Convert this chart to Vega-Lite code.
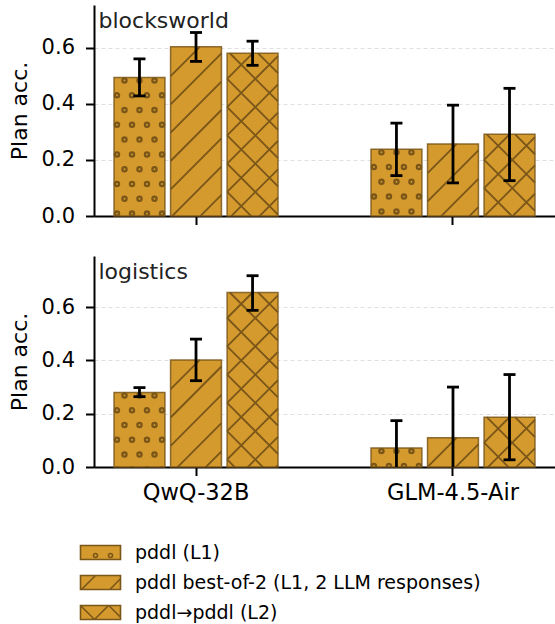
{
  "$schema": "https://vega.github.io/schema/vega-lite/v6.json",
  "padding": {"left": 8, "top": 5, "right": 0, "bottom": 0},
  "background": "white",
  "bounds": "flush",
  "spacing": 40,
  "config": {
    "font": "DejaVu Sans",
    "view": {"stroke": null},
    "axis": {"domainColor": "#000", "domainWidth": 2, "tickColor": "#000", "tickWidth": 2, "tickSize": 8.5, "labelColor": "#000", "labelFont": "DejaVu Sans", "titleFont": "DejaVu Sans", "titleColor": "#000", "titleFontWeight": "normal", "labelPadding": 9},
    "axisX": {"grid": false, "labelFontSize": 22.5, "labelAngle": 0, "labelPadding": 6},
    "axisY": {"grid": true, "gridColor": "#dfdfdf", "gridDash": [4, 3], "gridWidth": 1.2, "labelFontSize": 21, "labelPadding": 11, "titleFontSize": 22, "titlePadding": 10}
  },
  "data": {"values": [
    {"task": "blocksworld", "model": "QwQ-32B", "variant": "pddl (L1)", "acc": 0.494, "lo": 0.428, "hi": 0.560},
    {"task": "blocksworld", "model": "QwQ-32B", "variant": "pddl best-of-2 (L1, 2 LLM responses)", "acc": 0.603, "lo": 0.551, "hi": 0.654},
    {"task": "blocksworld", "model": "QwQ-32B", "variant": "pddl→pddl (L2)", "acc": 0.580, "lo": 0.537, "hi": 0.623},
    {"task": "blocksworld", "model": "GLM-4.5-Air", "variant": "pddl (L1)", "acc": 0.238, "lo": 0.144, "hi": 0.331},
    {"task": "blocksworld", "model": "GLM-4.5-Air", "variant": "pddl best-of-2 (L1, 2 LLM responses)", "acc": 0.257, "lo": 0.118, "hi": 0.395},
    {"task": "blocksworld", "model": "GLM-4.5-Air", "variant": "pddl→pddl (L2)", "acc": 0.291, "lo": 0.126, "hi": 0.455},
    {"task": "logistics", "model": "QwQ-32B", "variant": "pddl (L1)", "acc": 0.280, "lo": 0.264, "hi": 0.298},
    {"task": "logistics", "model": "QwQ-32B", "variant": "pddl best-of-2 (L1, 2 LLM responses)", "acc": 0.402, "lo": 0.324, "hi": 0.480},
    {"task": "logistics", "model": "QwQ-32B", "variant": "pddl→pddl (L2)", "acc": 0.655, "lo": 0.588, "hi": 0.718},
    {"task": "logistics", "model": "GLM-4.5-Air", "variant": "pddl (L1)", "acc": 0.071, "lo": -0.032, "hi": 0.174},
    {"task": "logistics", "model": "GLM-4.5-Air", "variant": "pddl best-of-2 (L1, 2 LLM responses)", "acc": 0.110, "lo": -0.080, "hi": 0.300},
    {"task": "logistics", "model": "GLM-4.5-Air", "variant": "pddl→pddl (L2)", "acc": 0.187, "lo": 0.027, "hi": 0.347}
  ]},
  "vconcat": [
    {
      "width": 461, "height": 211,
      "transform": [{"filter": "datum.task === 'blocksworld'"}],
      "resolve": {"axis": {"x": "independent"}},
      "encoding": {
        "x": {"field": "model", "type": "nominal", "sort": ["QwQ-32B", "GLM-4.5-Air"], "scale": {"paddingInner": 0.362, "paddingOuter": 0.078}, "axis": null},
        "xOffset": {"field": "variant", "type": "nominal", "sort": ["pddl (L1)", "pddl best-of-2 (L1, 2 LLM responses)", "pddl→pddl (L2)"], "scale": {"paddingInner": 0.1, "paddingOuter": 0}}
      },
      "layer": [
        {
          "mark": {"type": "bar", "stroke": "#7a5619", "strokeWidth": 1.5, "strokeOpacity": 0.85},
          "encoding": {
            "x": {"field": "model", "type": "nominal", "sort": ["QwQ-32B", "GLM-4.5-Air"], "axis": {"labels": false, "title": null}},
            "y": {"field": "acc", "type": "quantitative", "title": "Plan acc.", "scale": {"domain": [0, 0.752], "nice": false, "zero": true}, "axis": {"values": [0, 0.2, 0.4, 0.6], "format": ".1f"}},
            "color": {"field": "variant", "type": "nominal", "sort": ["pddl (L1)", "pddl best-of-2 (L1, 2 LLM responses)", "pddl→pddl (L2)"], "scale": {"range": ["#d49a2e", "#d49a2e", "#d49a2e"]},
              "legend": {"title": null, "orient": "none", "legendX": -3, "legendY": 538, "labelFontSize": 19, "labelColor": "#000", "labelFont": "DejaVu Sans", "labelLimit": 500, "symbolSize": 4, "symbolStrokeColor": "#7a5619", "symbolStrokeWidth": 1.6, "symbolOpacity": 1, "labelOffset": 25, "rowPadding": 9,
                "encode": {"symbols": {"update": {"shape": {"signal": "datum.value === 'pddl (L1)' ? 'M-20 -7H20V7H-20ZM-7 3a2 2 0 1 1 4 0a2 2 0 1 1 -4 0M8 3a2 2 0 1 1 4 0a2 2 0 1 1 -4 0' : datum.value === 'pddl→pddl (L2)' ? 'M-20 -7H20V7H-20ZM-20 -7L-6 7M-6 7L8 -7M8.3 -7L20 4.7' : 'M-20 -7H20V7H-20ZM-19 7L-5 -7M9.3 7L20 -3.7'"}}}}}}
          }
        },
        {
          "transform": [{"filter": "datum.variant === 'pddl (L1)'"}],
          "mark": {"type": "point", "size": 4, "filled": false, "stroke": "#7a5619", "strokeWidth": 2.3, "opacity": 1, "clip": true,
            "shape": "M-17.1 3a2.1 2.1 0 1 0 4.2 0a2.1 2.1 0 1 0 -4.2 0M-2.1 3a2.1 2.1 0 1 0 4.2 0a2.1 2.1 0 1 0 -4.2 0M12.9 3a2.1 2.1 0 1 0 4.2 0a2.1 2.1 0 1 0 -4.2 0M-24.6 17.8a2.1 2.1 0 1 0 4.2 0a2.1 2.1 0 1 0 -4.2 0M-9.6 17.8a2.1 2.1 0 1 0 4.2 0a2.1 2.1 0 1 0 -4.2 0M5.4 17.8a2.1 2.1 0 1 0 4.2 0a2.1 2.1 0 1 0 -4.2 0M20.4 17.8a2.1 2.1 0 1 0 4.2 0a2.1 2.1 0 1 0 -4.2 0M-17.1 32.6a2.1 2.1 0 1 0 4.2 0a2.1 2.1 0 1 0 -4.2 0M-2.1 32.6a2.1 2.1 0 1 0 4.2 0a2.1 2.1 0 1 0 -4.2 0M12.9 32.6a2.1 2.1 0 1 0 4.2 0a2.1 2.1 0 1 0 -4.2 0M-24.6 47.4a2.1 2.1 0 1 0 4.2 0a2.1 2.1 0 1 0 -4.2 0M-9.6 47.4a2.1 2.1 0 1 0 4.2 0a2.1 2.1 0 1 0 -4.2 0M5.4 47.4a2.1 2.1 0 1 0 4.2 0a2.1 2.1 0 1 0 -4.2 0M20.4 47.4a2.1 2.1 0 1 0 4.2 0a2.1 2.1 0 1 0 -4.2 0M-17.1 62.2a2.1 2.1 0 1 0 4.2 0a2.1 2.1 0 1 0 -4.2 0M-2.1 62.2a2.1 2.1 0 1 0 4.2 0a2.1 2.1 0 1 0 -4.2 0M12.9 62.2a2.1 2.1 0 1 0 4.2 0a2.1 2.1 0 1 0 -4.2 0M-24.6 77a2.1 2.1 0 1 0 4.2 0a2.1 2.1 0 1 0 -4.2 0M-9.6 77a2.1 2.1 0 1 0 4.2 0a2.1 2.1 0 1 0 -4.2 0M5.4 77a2.1 2.1 0 1 0 4.2 0a2.1 2.1 0 1 0 -4.2 0M20.4 77a2.1 2.1 0 1 0 4.2 0a2.1 2.1 0 1 0 -4.2 0M-17.1 91.8a2.1 2.1 0 1 0 4.2 0a2.1 2.1 0 1 0 -4.2 0M-2.1 91.8a2.1 2.1 0 1 0 4.2 0a2.1 2.1 0 1 0 -4.2 0M12.9 91.8a2.1 2.1 0 1 0 4.2 0a2.1 2.1 0 1 0 -4.2 0M-24.6 106.6a2.1 2.1 0 1 0 4.2 0a2.1 2.1 0 1 0 -4.2 0M-9.6 106.6a2.1 2.1 0 1 0 4.2 0a2.1 2.1 0 1 0 -4.2 0M5.4 106.6a2.1 2.1 0 1 0 4.2 0a2.1 2.1 0 1 0 -4.2 0M20.4 106.6a2.1 2.1 0 1 0 4.2 0a2.1 2.1 0 1 0 -4.2 0M-17.1 121.4a2.1 2.1 0 1 0 4.2 0a2.1 2.1 0 1 0 -4.2 0M-2.1 121.4a2.1 2.1 0 1 0 4.2 0a2.1 2.1 0 1 0 -4.2 0M12.9 121.4a2.1 2.1 0 1 0 4.2 0a2.1 2.1 0 1 0 -4.2 0M-24.6 136.2a2.1 2.1 0 1 0 4.2 0a2.1 2.1 0 1 0 -4.2 0M-9.6 136.2a2.1 2.1 0 1 0 4.2 0a2.1 2.1 0 1 0 -4.2 0M5.4 136.2a2.1 2.1 0 1 0 4.2 0a2.1 2.1 0 1 0 -4.2 0M20.4 136.2a2.1 2.1 0 1 0 4.2 0a2.1 2.1 0 1 0 -4.2 0M-17.1 151a2.1 2.1 0 1 0 4.2 0a2.1 2.1 0 1 0 -4.2 0M-2.1 151a2.1 2.1 0 1 0 4.2 0a2.1 2.1 0 1 0 -4.2 0M12.9 151a2.1 2.1 0 1 0 4.2 0a2.1 2.1 0 1 0 -4.2 0M-24.6 165.8a2.1 2.1 0 1 0 4.2 0a2.1 2.1 0 1 0 -4.2 0M-9.6 165.8a2.1 2.1 0 1 0 4.2 0a2.1 2.1 0 1 0 -4.2 0M5.4 165.8a2.1 2.1 0 1 0 4.2 0a2.1 2.1 0 1 0 -4.2 0M20.4 165.8a2.1 2.1 0 1 0 4.2 0a2.1 2.1 0 1 0 -4.2 0M-17.1 180.6a2.1 2.1 0 1 0 4.2 0a2.1 2.1 0 1 0 -4.2 0M-2.1 180.6a2.1 2.1 0 1 0 4.2 0a2.1 2.1 0 1 0 -4.2 0M12.9 180.6a2.1 2.1 0 1 0 4.2 0a2.1 2.1 0 1 0 -4.2 0M-24.6 195.4a2.1 2.1 0 1 0 4.2 0a2.1 2.1 0 1 0 -4.2 0M-9.6 195.4a2.1 2.1 0 1 0 4.2 0a2.1 2.1 0 1 0 -4.2 0M5.4 195.4a2.1 2.1 0 1 0 4.2 0a2.1 2.1 0 1 0 -4.2 0M20.4 195.4a2.1 2.1 0 1 0 4.2 0a2.1 2.1 0 1 0 -4.2 0M-17.1 210.2a2.1 2.1 0 1 0 4.2 0a2.1 2.1 0 1 0 -4.2 0M-2.1 210.2a2.1 2.1 0 1 0 4.2 0a2.1 2.1 0 1 0 -4.2 0M12.9 210.2a2.1 2.1 0 1 0 4.2 0a2.1 2.1 0 1 0 -4.2 0"},
          "encoding": {"y": {"field": "acc", "type": "quantitative", "title": "Plan acc."}}
        },
        {
          "transform": [{"filter": "datum.variant === 'pddl best-of-2 (L1, 2 LLM responses)'"}],
          "mark": {"type": "point", "size": 4, "filled": false, "stroke": "#7a5619", "strokeWidth": 1.8, "opacity": 1, "clip": true,
            "shape": "M-25.4 29.3L3.8 0M-25.4 57.6L25.4 6.6M-25.4 85.9L25.4 34.9M-25.4 114.2L25.4 63.2M-25.4 142.5L25.4 91.5M-25.4 170.8L25.4 119.8M-25.4 199.1L25.4 148.1M-13.1 215L25.4 176.4M15.2 215L25.4 204.7"},
          "encoding": {"y": {"field": "acc", "type": "quantitative", "title": "Plan acc."}}
        },
        {
          "transform": [{"filter": "datum.variant === 'pddl→pddl (L2)'"}],
          "mark": {"type": "point", "size": 4, "filled": false, "stroke": "#7a5619", "strokeWidth": 1.8, "opacity": 1, "clip": true,
            "shape": "M-25.4 25.5L0 0M-25.4 53.8L25.4 2.8M-25.4 82.1L25.4 31.1M-25.4 110.4L25.4 59.4M-25.4 138.7L25.4 87.7M-25.4 167L25.4 116M-25.4 195.3L25.4 144.3M-16.9 215L25.4 172.6M11.4 215L25.4 200.9M5.6 0L25.4 19.9M-22.7 0L25.4 48.2M-25.4 25.5L25.4 76.5M-25.4 53.8L25.4 104.8M-25.4 82.1L25.4 133.1M-25.4 110.4L25.4 161.4M-25.4 138.7L25.4 189.7M-25.4 167L22.5 215M-25.4 195.3L-5.8 215"},
          "encoding": {"y": {"field": "acc", "type": "quantitative", "title": "Plan acc."}}
        },
        {
          "mark": {"type": "rule", "color": "#000", "strokeWidth": 2.8, "clip": true},
          "encoding": {
            "x": {"field": "model", "type": "nominal", "sort": ["QwQ-32B", "GLM-4.5-Air"], "axis": {"orient": "top", "domain": false, "ticks": false, "labels": false, "grid": false, "title": "blocksworld", "titleX": 4, "titleY": 22, "titleAlign": "left", "titleAnchor": "start", "titleBaseline": "alphabetic", "titleFontSize": 22, "titleFontWeight": "normal", "titleColor": "#222"}},
            "y": {"field": "lo", "type": "quantitative", "title": "Plan acc."}, "y2": {"field": "hi"}}
        },
        {
          "mark": {"type": "tick", "color": "#000", "thickness": 2.8, "size": 12, "clip": true, "opacity": 1},
          "encoding": {"y": {"field": "lo", "type": "quantitative", "title": "Plan acc."}}
        },
        {
          "mark": {"type": "tick", "color": "#000", "thickness": 2.8, "size": 12, "clip": true, "opacity": 1},
          "encoding": {"y": {"field": "hi", "type": "quantitative", "title": "Plan acc."}}
        }
      ]
    },
    {
      "width": 461, "height": 211,
      "transform": [{"filter": "datum.task === 'logistics'"}],
      "resolve": {"axis": {"x": "independent"}},
      "encoding": {
        "x": {"field": "model", "type": "nominal", "sort": ["QwQ-32B", "GLM-4.5-Air"], "scale": {"paddingInner": 0.362, "paddingOuter": 0.078}, "axis": null},
        "xOffset": {"field": "variant", "type": "nominal", "sort": ["pddl (L1)", "pddl best-of-2 (L1, 2 LLM responses)", "pddl→pddl (L2)"], "scale": {"paddingInner": 0.1, "paddingOuter": 0}}
      },
      "layer": [
        {
          "mark": {"type": "bar", "stroke": "#7a5619", "strokeWidth": 1.5, "strokeOpacity": 0.85},
          "encoding": {
            "x": {"field": "model", "type": "nominal", "sort": ["QwQ-32B", "GLM-4.5-Air"], "axis": {"title": null}},
            "y": {"field": "acc", "type": "quantitative", "title": "Plan acc.", "scale": {"domain": [0, 0.792], "nice": false, "zero": true}, "axis": {"values": [0, 0.2, 0.4, 0.6], "format": ".1f"}},
            "color": {"field": "variant", "type": "nominal", "sort": ["pddl (L1)", "pddl best-of-2 (L1, 2 LLM responses)", "pddl→pddl (L2)"], "scale": {"range": ["#d49a2e", "#d49a2e", "#d49a2e"]},
              "legend": {"title": null, "orient": "none", "legendX": -3, "legendY": 538, "labelFontSize": 19, "labelColor": "#000", "labelFont": "DejaVu Sans", "labelLimit": 500, "symbolSize": 4, "symbolStrokeColor": "#7a5619", "symbolStrokeWidth": 1.6, "symbolOpacity": 1, "labelOffset": 25, "rowPadding": 9,
                "encode": {"symbols": {"update": {"shape": {"signal": "datum.value === 'pddl (L1)' ? 'M-20 -7H20V7H-20ZM-7 3a2 2 0 1 1 4 0a2 2 0 1 1 -4 0M8 3a2 2 0 1 1 4 0a2 2 0 1 1 -4 0' : datum.value === 'pddl→pddl (L2)' ? 'M-20 -7H20V7H-20ZM-20 -7L-6 7M-6 7L8 -7M8.3 -7L20 4.7' : 'M-20 -7H20V7H-20ZM-19 7L-5 -7M9.3 7L20 -3.7'"}}}}}}
          }
        },
        {
          "transform": [{"filter": "datum.variant === 'pddl (L1)'"}],
          "mark": {"type": "point", "size": 4, "filled": false, "stroke": "#7a5619", "strokeWidth": 2.3, "opacity": 1, "clip": true,
            "shape": "M-17.1 3a2.1 2.1 0 1 0 4.2 0a2.1 2.1 0 1 0 -4.2 0M-2.1 3a2.1 2.1 0 1 0 4.2 0a2.1 2.1 0 1 0 -4.2 0M12.9 3a2.1 2.1 0 1 0 4.2 0a2.1 2.1 0 1 0 -4.2 0M-24.6 17.8a2.1 2.1 0 1 0 4.2 0a2.1 2.1 0 1 0 -4.2 0M-9.6 17.8a2.1 2.1 0 1 0 4.2 0a2.1 2.1 0 1 0 -4.2 0M5.4 17.8a2.1 2.1 0 1 0 4.2 0a2.1 2.1 0 1 0 -4.2 0M20.4 17.8a2.1 2.1 0 1 0 4.2 0a2.1 2.1 0 1 0 -4.2 0M-17.1 32.6a2.1 2.1 0 1 0 4.2 0a2.1 2.1 0 1 0 -4.2 0M-2.1 32.6a2.1 2.1 0 1 0 4.2 0a2.1 2.1 0 1 0 -4.2 0M12.9 32.6a2.1 2.1 0 1 0 4.2 0a2.1 2.1 0 1 0 -4.2 0M-24.6 47.4a2.1 2.1 0 1 0 4.2 0a2.1 2.1 0 1 0 -4.2 0M-9.6 47.4a2.1 2.1 0 1 0 4.2 0a2.1 2.1 0 1 0 -4.2 0M5.4 47.4a2.1 2.1 0 1 0 4.2 0a2.1 2.1 0 1 0 -4.2 0M20.4 47.4a2.1 2.1 0 1 0 4.2 0a2.1 2.1 0 1 0 -4.2 0M-17.1 62.2a2.1 2.1 0 1 0 4.2 0a2.1 2.1 0 1 0 -4.2 0M-2.1 62.2a2.1 2.1 0 1 0 4.2 0a2.1 2.1 0 1 0 -4.2 0M12.9 62.2a2.1 2.1 0 1 0 4.2 0a2.1 2.1 0 1 0 -4.2 0M-24.6 77a2.1 2.1 0 1 0 4.2 0a2.1 2.1 0 1 0 -4.2 0M-9.6 77a2.1 2.1 0 1 0 4.2 0a2.1 2.1 0 1 0 -4.2 0M5.4 77a2.1 2.1 0 1 0 4.2 0a2.1 2.1 0 1 0 -4.2 0M20.4 77a2.1 2.1 0 1 0 4.2 0a2.1 2.1 0 1 0 -4.2 0M-17.1 91.8a2.1 2.1 0 1 0 4.2 0a2.1 2.1 0 1 0 -4.2 0M-2.1 91.8a2.1 2.1 0 1 0 4.2 0a2.1 2.1 0 1 0 -4.2 0M12.9 91.8a2.1 2.1 0 1 0 4.2 0a2.1 2.1 0 1 0 -4.2 0M-24.6 106.6a2.1 2.1 0 1 0 4.2 0a2.1 2.1 0 1 0 -4.2 0M-9.6 106.6a2.1 2.1 0 1 0 4.2 0a2.1 2.1 0 1 0 -4.2 0M5.4 106.6a2.1 2.1 0 1 0 4.2 0a2.1 2.1 0 1 0 -4.2 0M20.4 106.6a2.1 2.1 0 1 0 4.2 0a2.1 2.1 0 1 0 -4.2 0M-17.1 121.4a2.1 2.1 0 1 0 4.2 0a2.1 2.1 0 1 0 -4.2 0M-2.1 121.4a2.1 2.1 0 1 0 4.2 0a2.1 2.1 0 1 0 -4.2 0M12.9 121.4a2.1 2.1 0 1 0 4.2 0a2.1 2.1 0 1 0 -4.2 0M-24.6 136.2a2.1 2.1 0 1 0 4.2 0a2.1 2.1 0 1 0 -4.2 0M-9.6 136.2a2.1 2.1 0 1 0 4.2 0a2.1 2.1 0 1 0 -4.2 0M5.4 136.2a2.1 2.1 0 1 0 4.2 0a2.1 2.1 0 1 0 -4.2 0M20.4 136.2a2.1 2.1 0 1 0 4.2 0a2.1 2.1 0 1 0 -4.2 0M-17.1 151a2.1 2.1 0 1 0 4.2 0a2.1 2.1 0 1 0 -4.2 0M-2.1 151a2.1 2.1 0 1 0 4.2 0a2.1 2.1 0 1 0 -4.2 0M12.9 151a2.1 2.1 0 1 0 4.2 0a2.1 2.1 0 1 0 -4.2 0M-24.6 165.8a2.1 2.1 0 1 0 4.2 0a2.1 2.1 0 1 0 -4.2 0M-9.6 165.8a2.1 2.1 0 1 0 4.2 0a2.1 2.1 0 1 0 -4.2 0M5.4 165.8a2.1 2.1 0 1 0 4.2 0a2.1 2.1 0 1 0 -4.2 0M20.4 165.8a2.1 2.1 0 1 0 4.2 0a2.1 2.1 0 1 0 -4.2 0M-17.1 180.6a2.1 2.1 0 1 0 4.2 0a2.1 2.1 0 1 0 -4.2 0M-2.1 180.6a2.1 2.1 0 1 0 4.2 0a2.1 2.1 0 1 0 -4.2 0M12.9 180.6a2.1 2.1 0 1 0 4.2 0a2.1 2.1 0 1 0 -4.2 0M-24.6 195.4a2.1 2.1 0 1 0 4.2 0a2.1 2.1 0 1 0 -4.2 0M-9.6 195.4a2.1 2.1 0 1 0 4.2 0a2.1 2.1 0 1 0 -4.2 0M5.4 195.4a2.1 2.1 0 1 0 4.2 0a2.1 2.1 0 1 0 -4.2 0M20.4 195.4a2.1 2.1 0 1 0 4.2 0a2.1 2.1 0 1 0 -4.2 0M-17.1 210.2a2.1 2.1 0 1 0 4.2 0a2.1 2.1 0 1 0 -4.2 0M-2.1 210.2a2.1 2.1 0 1 0 4.2 0a2.1 2.1 0 1 0 -4.2 0M12.9 210.2a2.1 2.1 0 1 0 4.2 0a2.1 2.1 0 1 0 -4.2 0"},
          "encoding": {"y": {"field": "acc", "type": "quantitative", "title": "Plan acc."}}
        },
        {
          "transform": [{"filter": "datum.variant === 'pddl best-of-2 (L1, 2 LLM responses)'"}],
          "mark": {"type": "point", "size": 4, "filled": false, "stroke": "#7a5619", "strokeWidth": 1.8, "opacity": 1, "clip": true,
            "shape": "M-25.4 29.3L3.8 0M-25.4 57.6L25.4 6.6M-25.4 85.9L25.4 34.9M-25.4 114.2L25.4 63.2M-25.4 142.5L25.4 91.5M-25.4 170.8L25.4 119.8M-25.4 199.1L25.4 148.1M-13.1 215L25.4 176.4M15.2 215L25.4 204.7"},
          "encoding": {"y": {"field": "acc", "type": "quantitative", "title": "Plan acc."}}
        },
        {
          "transform": [{"filter": "datum.variant === 'pddl→pddl (L2)'"}],
          "mark": {"type": "point", "size": 4, "filled": false, "stroke": "#7a5619", "strokeWidth": 1.8, "opacity": 1, "clip": true,
            "shape": "M-25.4 25.5L0 0M-25.4 53.8L25.4 2.8M-25.4 82.1L25.4 31.1M-25.4 110.4L25.4 59.4M-25.4 138.7L25.4 87.7M-25.4 167L25.4 116M-25.4 195.3L25.4 144.3M-16.9 215L25.4 172.6M11.4 215L25.4 200.9M5.6 0L25.4 19.9M-22.7 0L25.4 48.2M-25.4 25.5L25.4 76.5M-25.4 53.8L25.4 104.8M-25.4 82.1L25.4 133.1M-25.4 110.4L25.4 161.4M-25.4 138.7L25.4 189.7M-25.4 167L22.5 215M-25.4 195.3L-5.8 215"},
          "encoding": {"y": {"field": "acc", "type": "quantitative", "title": "Plan acc."}}
        },
        {
          "mark": {"type": "rule", "color": "#000", "strokeWidth": 2.8, "clip": true},
          "encoding": {
            "x": {"field": "model", "type": "nominal", "sort": ["QwQ-32B", "GLM-4.5-Air"], "axis": {"orient": "top", "domain": false, "ticks": false, "labels": false, "grid": false, "title": "logistics", "titleX": 4, "titleY": 22, "titleAlign": "left", "titleAnchor": "start", "titleBaseline": "alphabetic", "titleFontSize": 22, "titleFontWeight": "normal", "titleColor": "#222"}},
            "y": {"field": "lo", "type": "quantitative", "title": "Plan acc."}, "y2": {"field": "hi"}}
        },
        {
          "mark": {"type": "tick", "color": "#000", "thickness": 2.8, "size": 12, "clip": true, "opacity": 1},
          "encoding": {"y": {"field": "lo", "type": "quantitative", "title": "Plan acc."}}
        },
        {
          "mark": {"type": "tick", "color": "#000", "thickness": 2.8, "size": 12, "clip": true, "opacity": 1},
          "encoding": {"y": {"field": "hi", "type": "quantitative", "title": "Plan acc."}}
        }
      ]
    }
  ]
}
